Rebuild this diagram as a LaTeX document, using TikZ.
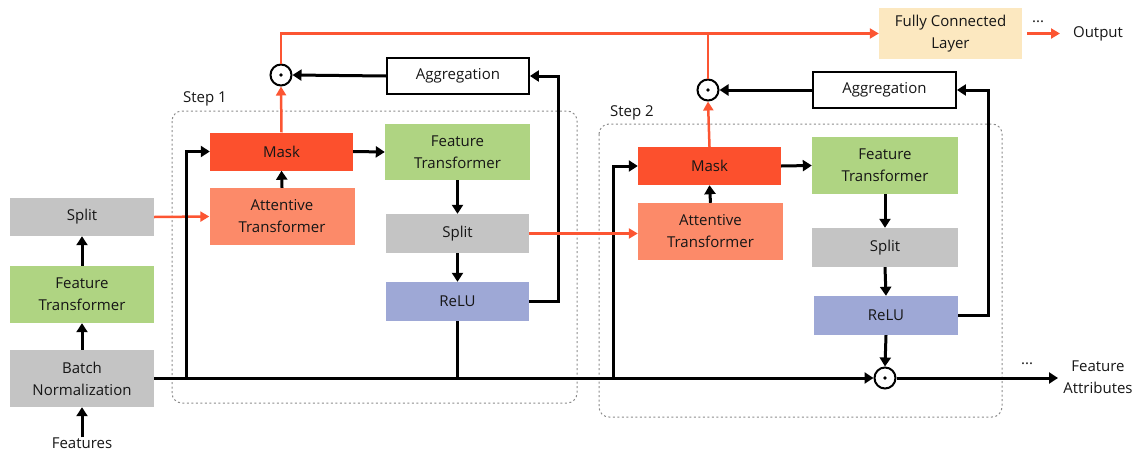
\documentclass[tikz,border=0pt]{standalone}
\usepackage{fontspec}
\setmainfont{Open Sans}
\usetikzlibrary{arrows.meta}
\definecolor{maskc}{RGB}{252,80,45}
\definecolor{attc}{RGB}{252,138,105}
\definecolor{ftc}{RGB}{175,212,130}
\definecolor{grayc}{RGB}{196,196,196}
\definecolor{reluc}{RGB}{158,168,214}
\definecolor{fcc}{RGB}{252,232,192}
\definecolor{redl}{RGB}{252,85,50}
\definecolor{txt}{RGB}{22,22,22}
\definecolor{dashc}{RGB}{140,140,140}
\begin{document}
\begin{tikzpicture}[x=1pt,y=-1pt,
  every node/.style={text=txt,font=\fontsize{15}{22}\selectfont},
  box/.style={draw=none,align=center,inner sep=0pt,minimum width=144pt,minimum height=38pt},
  tall/.style={box,minimum height=57pt},
  aggbox/.style={box,draw=black,fill=white,line width=1.8pt,minimum width=142pt,minimum height=36pt},
  odot/.style={circle,draw=black,fill=white,line width=2pt,minimum size=21pt,inner sep=0pt,
    path picture={\fill[black] (path picture bounding box.center) circle (1.8pt);}},
  blk/.style={draw=black,line width=3pt},
  blkarr/.style={blk,-{Triangle[length=9pt,width=11pt]}},
  redln/.style={draw=redl,line width=2.5pt},
  redarr/.style={redln,-{Triangle[length=9pt,width=10pt]}},
  stepbox/.style={draw=dashc,line width=1pt,dash pattern=on 2pt off 2.5pt,rounded corners=10pt},
  plain/.style={align=center,inner sep=0pt}
]
\useasboundingbox (0,0) rectangle (1133,453);

% dashed step boxes
\draw[stepbox] (172,111) rectangle (577,403);
\draw[stepbox] (599,124) rectangle (1002,417);
\node[plain] (s1lab) at (205,99) {Step 1};
\node[plain] (s2lab) at (632,113) {Step 2};

% left column
\node[box,fill=grayc] (split0) at (82,217) {Split};
\node[tall,fill=ftc] (ft0) at (82,294.5) {Feature\\Transformer};
\node[tall,fill=grayc] (bn0) at (82,378.5) {Batch\\Normalization};
\node[plain] (feat) at (82,443) {Features};

% step 1
\node[box,fill=maskc,minimum width=143pt] (mask1) at (281.5,151.5) {Mask};
\node[tall,fill=attc,minimum width=145pt] (att1) at (282,216.5) {Attentive\\Transformer};
\node[tall,fill=ftc,minimum width=145pt,minimum height=56pt] (ft1) at (457.5,152) {Feature\\Transformer};
\node[box,fill=grayc,minimum width=143pt,minimum height=39pt] (split1) at (457.5,233.5) {Split};
\node[box,fill=reluc,minimum width=143pt,minimum height=39pt] (relu1) at (457.5,301.5) {ReLU};
\node[aggbox] (agg1) at (458,76) {Aggregation};
\node[odot] (od1) at (281,75) {};

% step 2
\node[box,fill=maskc,minimum width=143pt] (mask2) at (709.5,166) {Mask};
\node[tall,fill=attc,minimum width=145pt] (att2) at (710.5,231.5) {Attentive\\Transformer};
\node[tall,fill=ftc,minimum width=146pt] (ft2) at (885,165.5) {Feature\\Transformer};
\node[box,fill=grayc,minimum width=146pt,minimum height=39pt] (split2) at (885,247.5) {Split};
\node[box,fill=reluc,minimum width=144pt,minimum height=39pt] (relu2) at (886,315.5) {ReLU};
\node[aggbox,minimum width=143pt] (agg2) at (884.5,90) {Aggregation};
\node[odot] (od2) at (708,90) {};
\node[odot] (od3) at (885,378) {};

% output side
\node[box,fill=fcc,minimum width=143pt,minimum height=51pt] (fc) at (950.5,33.5) {Fully Connected\\Layer};
\node[plain] (dots1) at (1038,22) {...};
\node[plain] (out) at (1098,34) {Output};
\node[plain] (dots2) at (1027,364) {...};
\node[plain] (fattr) at (1098,377) {Feature\\Attributes};
\coordinate (outend) at (1060,33.5);
\coordinate (faend) at (1058,378);
\coordinate (j1) at (186,378);
\coordinate (j2) at (613,378);
\coordinate (r1) at (558,301.5);
\coordinate (r2) at (988,315.5);

% left column connectors
\draw[blkarr] (feat.north) -- (bn0.south);
\draw[blkarr] (bn0.north) -- (ft0.south);
\draw[blkarr] (ft0.north) -- (split0.south);
\draw[redarr] (split0.east) -- (att1.west);

% main line
\draw[blkarr] (bn0.east |- od3) -- (od3.west);
\draw[blkarr] (j1) |- (mask1.west);
\draw[blkarr] (j2) |- (mask2.west);

% step 1 connectors
\draw[blkarr] (att1.north) -- (mask1.south);
\draw[blkarr] (mask1.east) -- (ft1.west);
\draw[blkarr] (ft1.south) -- (split1.north);
\draw[blkarr] (split1.south) -- (relu1.north);
\draw[blk] (relu1.south) -- (relu1.south |- j1);
\draw[blkarr] (relu1.east) -- (r1) |- (agg1.east);
\draw[blkarr] (agg1.west) -- (od1.east);
\draw[redarr] (mask1.north) -- (od1.south);
\draw[redarr] (od1.north) |- (fc.west);
\draw[redarr] (split1.east) -- (split1.east -| att2.west);

% step 2 connectors
\draw[blkarr] (att2.north) -- (mask2.south);
\draw[blkarr] (mask2.east) -- (ft2.west);
\draw[blkarr] (ft2.south) -- (split2.north);
\draw[blkarr] (split2.south) -- (relu2.north);
\draw[blkarr] (relu2.south) -- (od3.north);
\draw[blkarr] (relu2.east) -- (r2) |- (agg2.east);
\draw[blkarr] (agg2.west) -- (od2.east);
\draw[redarr] (mask2.north) -- (od2.south);
\draw[redln] (od2.north) -- (od2.north |- fc.west);

% outputs
\draw[redarr] ([xshift=5pt]fc.east) -- (outend);
\draw[blkarr] (od3.east) -- (faend);
\end{tikzpicture}
\end{document}
